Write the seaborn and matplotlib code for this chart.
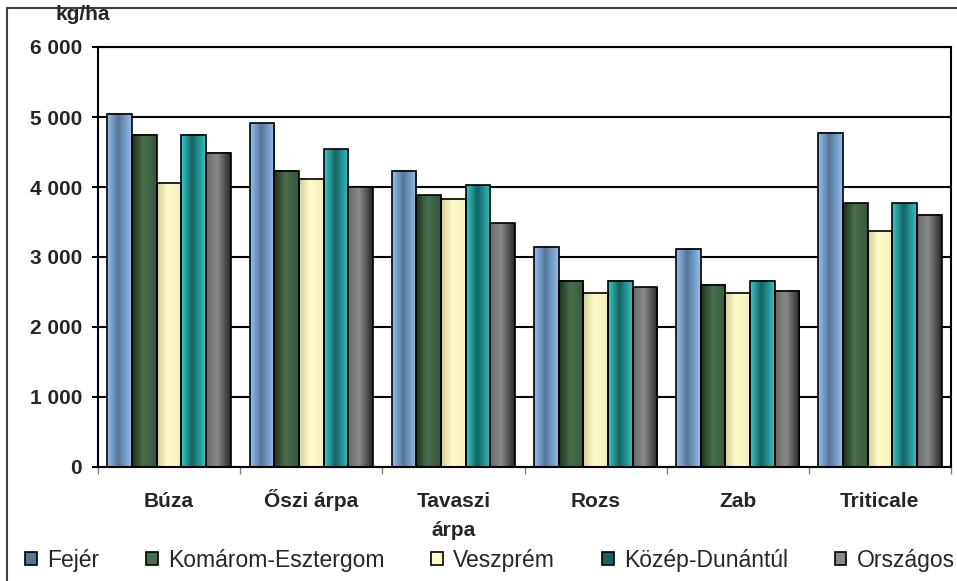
import numpy as np
import pandas as pd
import seaborn as sns
import matplotlib.pyplot as plt
from matplotlib.colors import to_rgb
from matplotlib.lines import Line2D
from matplotlib.patches import Patch
from matplotlib.ticker import FuncFormatter, FixedLocator

crops = ["Búza", "Őszi árpa", "Tavaszi\nárpa", "Rozs", "Zab", "Triticale"]
regions = ["Fejér", "Komárom-Esztergom", "Veszprém", "Közép-Dunántúl", "Országos"]

fejer = [5050, 4910, 4230, 3150, 3115, 4775]
komarom = [4745, 4230, 3880, 2660, 2605, 3770]
veszprem = [4055, 4115, 3830, 2490, 2490, 3370]
kozep = [4745, 4540, 4025, 2660, 2660, 3770]
orszagos = [4490, 4000, 3480, 2570, 2515, 3605]

# left / middle / right shades of each bar (cylinder look)
shades = {
    "Fejér": ("#93c0ee", "#55759a", "#93c0ee"),
    "Komárom-Esztergom": ("#1a321c", "#4a6e4c", "#36583a"),
    "Veszprém": ("#d2ce9c", "#fffcc8", "#f3f0be"),
    "Közép-Dunántúl": ("#38cccc", "#156262", "#32c4c4"),
    "Országos": ("#6a6a6a", "#8a8a8a", "#262626"),
}

values = [fejer, komarom, veszprem, kozep, orszagos]
df = pd.DataFrame({
    "crop": np.tile(crops, len(regions)),
    "region": np.repeat(regions, len(crops)),
    "value": np.concatenate(values),
})

sns.set_style("white")
plt.rcParams["font.family"] = ["Liberation Sans", "DejaVu Sans"]

fig = plt.figure(figsize=(9.57, 5.81), dpi=100)
ax = fig.add_axes([98 / 957, 1 - 467 / 581, (951 - 98) / 957, (467 - 47) / 581])

pal = [shades[r][1] for r in regions]
sns.barplot(data=df, x="crop", y="value", hue="region", hue_order=regions,
            order=crops, palette=pal, width=0.868, edgecolor="black",
            linewidth=1.2, legend=False, ax=ax, zorder=3)

# gradient fill
def gradient(cols, n=64):
    l, m, r = [np.array(to_rgb(c)) for c in cols]
    t = np.linspace(0, 1, n)[:, None]
    left = l + (m - l) * np.clip(t / 0.45, 0, 1)
    right = m + (r - m) * np.clip((t - 0.45) / 0.55, 0, 1)
    return np.where(t <= 0.45, left, right)[None, :, :]

for reg, cont in zip(regions, ax.containers):
    g = gradient(shades[reg])
    for bar in cont:
        x0, y0 = bar.get_x(), bar.get_y()
        w, h = bar.get_width(), bar.get_height()
        ax.imshow(g, extent=[x0, x0 + w, y0, y0 + h], aspect="auto",
                  interpolation="bilinear", zorder=2.5)
        bar.set_facecolor("none")

ax.set_xlim(-0.5, 5.5)
ax.set_ylim(0, 6000)
ax.set_aspect("auto")

ax.yaxis.set_major_locator(FixedLocator(np.arange(0, 6001, 1000)))
ax.yaxis.set_major_formatter(FuncFormatter(lambda v, p: f"{v:,.0f}".replace(",", " ")))
ax.grid(axis="y", color="black", linewidth=1.5)
ax.set_axisbelow(True)
for s in ax.spines.values():
    s.set_color("black")
    s.set_linewidth(1.5)

ax.set_xlabel("")
ax.set_ylabel("")
ax.tick_params(axis="y", length=4.5, width=1.5, color="black", pad=7,
               labelsize=15, left=True)
ax.set_xticks(range(len(crops)))
ax.set_xticklabels([])
# category labels, one baseline per line
for i, c in enumerate(crops):
    for j, line in enumerate(c.split("\n")):
        ax.text(i, -(507 + 29 * j - 467) / 420, line,
                transform=ax.get_xaxis_transform(), ha="center",
                va="baseline", fontsize=15, fontweight="bold")
ax.set_xticks(np.arange(-0.5, 6, 1), minor=True)
ax.tick_params(axis="x", which="major", length=0)
ax.tick_params(axis="x", which="minor", length=5, width=1, color="#808080",
               bottom=True)
for lab in ax.get_yticklabels():
    lab.set_fontweight("bold")

fig.text(83 / 957, 1 - 15 / 581, "kg/ha", fontsize=15, fontweight="bold",
         ha="center", va="center")

handles = [Patch(facecolor=shades[r][1], edgecolor="black", linewidth=1.2)
           for r in regions]
fig.legend(handles, regions, loc="center", bbox_to_anchor=(490 / 957, 1 - 560 / 581),
           ncol=5, frameon=False, fontsize=16.5, handlelength=0.5,
           handleheight=0.5, handletextpad=0.45, columnspacing=2.05,
           borderaxespad=0)

# outer chart frame
fig.add_artist(Line2D([7 / 957, 7 / 957], [0, 1 - 8 / 581], transform=fig.transFigure,
                      color="#404040", linewidth=1.5))
fig.add_artist(Line2D([7 / 957, 1], [1 - 8 / 581, 1 - 8 / 581], transform=fig.transFigure,
                      color="#404040", linewidth=1.5))

fig.savefig("out.png", dpi=100)
